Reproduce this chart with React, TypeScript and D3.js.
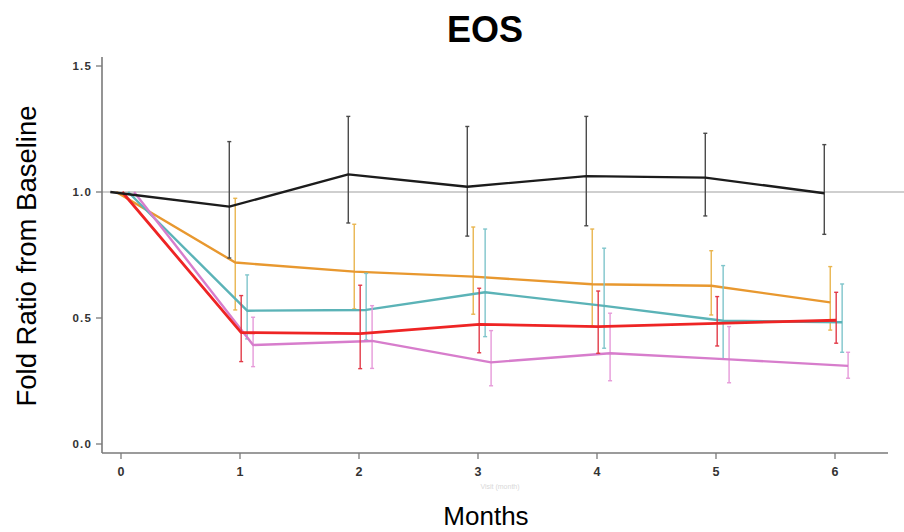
import React from "react";
import * as d3 from "d3";

const months = [0, 1, 2, 3, 4, 5, 6];
const xTicks = ["0", "1", "2", "3", "4", "5", "6"];
const yTicks = [0, 0.5, 1.0, 1.5];

const seriesNames = ["black", "orange", "red", "teal", "pink"];
const lineColors = ["#1c1c1c", "#E8982F", "#EE2424", "#5BB3B7", "#D77DCC"];
const barColors = ["#4a4a4a", "#E9B54E", "#E23A48", "#7FC5CB", "#E69AD9"];
const offsets = [-0.09, -0.04, 0.01, 0.06, 0.11];

const blackMean = [1.0, 0.942, 1.07, 1.021, 1.063, 1.057, 0.995];
const blackHi = [null, 1.2, 1.3, 1.26, 1.3, 1.233, 1.188];
const blackLo = [null, 0.738, 0.877, 0.825, 0.866, 0.905, 0.832];

const orangeMean = [1.0, 0.72, 0.684, 0.664, 0.634, 0.628, 0.562];
const orangeHi = [null, 0.975, 0.872, 0.861, 0.853, 0.767, 0.704];
const orangeLo = [null, 0.532, 0.536, 0.515, 0.468, 0.512, 0.452];

const redMean = [1.0, 0.442, 0.438, 0.475, 0.466, 0.479, 0.491];
const redHi = [null, 0.589, 0.63, 0.618, 0.607, 0.585, 0.602];
const redLo = [null, 0.327, 0.299, 0.362, 0.36, 0.389, 0.4];

const tealMean = [1.0, 0.529, 0.532, 0.602, 0.548, 0.489, 0.483];
const tealHi = [null, 0.671, 0.677, 0.853, 0.777, 0.708, 0.635];
const tealLo = [null, 0.417, 0.413, 0.426, 0.38, 0.336, 0.364];

const pinkMean = [1.0, 0.393, 0.409, 0.324, 0.36, 0.336, 0.31];
const pinkHi = [null, 0.503, 0.549, 0.45, 0.519, 0.466, 0.364];
const pinkLo = [null, 0.307, 0.3, 0.231, 0.251, 0.243, 0.261];

const means = [blackMean, orangeMean, redMean, tealMean, pinkMean];
const his = [blackHi, orangeHi, redHi, tealHi, pinkHi];
const los = [blackLo, orangeLo, redLo, tealLo, pinkLo];

export default function App() {
  const W = 904, H = 532;
  const x = d3.scaleLinear().domain([0, 6]).range([121, 835]);
  const y = d3.scaleLinear().domain([0, 1.5]).range([444, 66]);
  const axisColor = "#7a7a7a";
  const font = "Arial, 'Liberation Sans', sans-serif";

  const drawOrder = [1, 3, 4, 2, 0];

  return (
    <svg width={W} height={H} style={{ position: "absolute", left: 0, top: 0, background: "#fff" }}>
      <rect width={W} height={H} fill="#fff" />
      {/* reference line at 1.0 */}
      <line x1={102} x2={W} y1={y(1)} y2={y(1)} stroke="#cfcfcf" strokeWidth={2} />

      {/* axes */}
      <line x1={102} x2={102} y1={57} y2={453} stroke={axisColor} strokeWidth={1.6} />
      <line x1={102} x2={888} y1={453} y2={453} stroke={axisColor} strokeWidth={1.6} />
      {yTicks.map((t) => (
        <g key={"y" + t}>
          <line x1={96} x2={102} y1={y(t)} y2={y(t)} stroke={axisColor} strokeWidth={1.3} />
          <text x={92} y={y(t) + 4} textAnchor="end" fontFamily={font} fontWeight="bold" fontSize={11.5} letterSpacing={1.2} fill="#333">
            {t.toFixed(1)}
          </text>
        </g>
      ))}
      {months.map((m, i) => (
        <g key={"x" + m}>
          <line x1={x(m)} x2={x(m)} y1={453} y2={459} stroke={axisColor} strokeWidth={1.3} />
          <text x={x(m)} y={476} textAnchor="middle" fontFamily={font} fontWeight="bold" fontSize={12.5} fill="#333">
            {xTicks[i]}
          </text>
        </g>
      ))}
      <text x={500} y={489} textAnchor="middle" fontFamily={font} fontSize={7} fill="#d8d8d8">
        Visit (month)
      </text>

      {/* series */}
      {drawOrder.map((s) => {
        const pts = months.map((m, i) => [x(m + offsets[s]), y(means[s][i])] as [number, number]);
        const path = d3.line()(pts) || "";
        return (
          <g key={seriesNames[s]}>
            {months.map((m, i) => {
              const hi = his[s][i];
              const lo = los[s][i];
              if (hi == null || lo == null) return null;
              const cx = x(m + offsets[s]);
              return (
                <g key={i}>
                  <line x1={cx} x2={cx} y1={y(hi)} y2={y(lo)} stroke={barColors[s]} strokeWidth={1.4} />
                  <line x1={cx - 2} x2={cx + 2} y1={y(hi)} y2={y(hi)} stroke={barColors[s]} strokeWidth={1.4} />
                  <line x1={cx - 2} x2={cx + 2} y1={y(lo)} y2={y(lo)} stroke={barColors[s]} strokeWidth={1.4} />
                </g>
              );
            })}
            <path d={path} fill="none" stroke={lineColors[s]} strokeWidth={s === 2 ? 2.8 : 2.4} strokeLinejoin="round" />
          </g>
        );
      })}

      {/* titles */}
      <text x={485} y={42} textAnchor="middle" fontFamily={font} fontWeight="bold" fontSize={36} fill="#000">
        EOS
      </text>
      <text
        transform={`translate(36, 256) rotate(-90)`}
        textAnchor="middle"
        fontFamily={font}
        fontSize={27.5}
        fill="#000"
      >
        Fold Ratio from Baseline
      </text>
      <text x={486} y={525} textAnchor="middle" fontFamily={font} fontSize={26} fill="#000">
        Months
      </text>
    </svg>
  );
}
